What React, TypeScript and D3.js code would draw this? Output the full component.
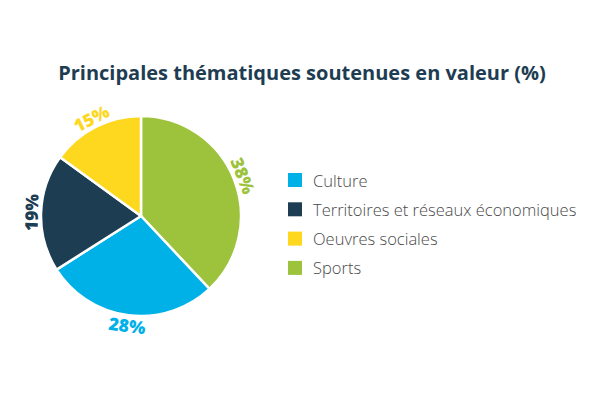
import React, { useEffect, useRef } from 'react';
import * as d3 from 'd3';

// Slices in clockwise order from 12 o'clock
const categories = ['Sports', 'Culture', 'Territoires et réseaux économiques', 'Oeuvres sociales'];
const values = [38, 28, 19, 15];
const colors = ['#9cc33b', '#00b1e8', '#1c3d52', '#fdd81e'];
const legendOrder = ['Culture', 'Territoires et réseaux économiques', 'Oeuvres sociales', 'Sports'];

const title = 'Principales thématiques soutenues en valeur (%)';

export default function App() {
  const svgRef = useRef<SVGSVGElement>(null);

  useEffect(() => {
    if (!svgRef.current) return;
    const svg = d3.select(svgRef.current);
    svg.selectAll('*').remove();

    const width = 600;
    const height = 400;
    const cx = 141;
    const cy = 216;
    const radius = 100;

    svg.append('rect').attr('width', width).attr('height', height).attr('fill', '#fff');

    svg
      .append('text')
      .attr('x', 302)
      .attr('y', 80)
      .attr('text-anchor', 'middle')
      .attr('font-family', '"Open Sans", sans-serif')
      .attr('font-weight', 700)
      .attr('font-size', 20)
      .attr('fill', '#1e3d52')
      .text(title);

    const data = categories.map((c, i) => ({ name: c, value: values[i], color: colors[i] }));
    const pie = d3
      .pie<{ name: string; value: number; color: string }>()
      .value((d) => d.value)
      .sort(null);
    const arcs = pie(data);
    const arc = d3.arc<d3.PieArcDatum<{ name: string; value: number; color: string }>>()
      .innerRadius(0)
      .outerRadius(radius);

    const g = svg.append('g').attr('transform', `translate(${cx},${cy})`);

    g.selectAll('path.slice')
      .data(arcs)
      .enter()
      .append('path')
      .attr('class', 'slice')
      .attr('d', arc)
      .attr('fill', (d) => d.data.color)
      .attr('stroke', '#fff')
      .attr('stroke-width', 2.5)
      .attr('stroke-linejoin', 'round');

    // Labels set along the rim, rotated with the tangent
    const labelR = 110;
    g.selectAll('text.pct')
      .data(arcs)
      .enter()
      .append('text')
      .attr('class', 'pct')
      .attr('transform', (d) => {
        const a = (d.startAngle + d.endAngle) / 2;
        const deg = (a * 180) / Math.PI;
        const x = Math.sin(a) * labelR;
        const y = -Math.cos(a) * labelR;
        const rot = deg > 90 && deg < 270 ? deg - 180 : deg;
        return `translate(${x},${y}) rotate(${rot})`;
      })
      .attr('text-anchor', 'middle')
      .attr('dominant-baseline', 'central')
      .attr('font-family', '"Open Sans", sans-serif')
      .attr('font-weight', 800)
      .attr('font-size', 17.5)
      .attr('fill', (d) => d.data.color)
      .text((d) => `${d.data.value}%`);

    // Legend
    const colorOf = d3.scaleOrdinal<string, string>().domain(categories).range(colors);
    const legend = svg.append('g').attr('transform', 'translate(288,180)');
    const rowStep = 29.3;
    legendOrder.forEach((name, i) => {
      const row = legend.append('g').attr('transform', `translate(0,${i * rowStep})`);
      row
        .append('rect')
        .attr('x', 0)
        .attr('y', -7)
        .attr('width', 14)
        .attr('height', 14)
        .attr('fill', colorOf(name));
      row
        .append('text')
        .attr('x', 25)
        .attr('y', 0)
        .attr('dominant-baseline', 'central')
        .attr('font-family', '"Open Sans", sans-serif')
        .attr('font-weight', 300)
        .attr('font-size', 16.5)
        .attr('fill', '#4a4a4a')
        .text(name);
    });
  }, []);

  return (
    <div style={{ position: 'absolute', left: 0, top: 0 }}>
      <svg ref={svgRef} width={600} height={400} style={{ display: 'block' }} />
    </div>
  );
}
